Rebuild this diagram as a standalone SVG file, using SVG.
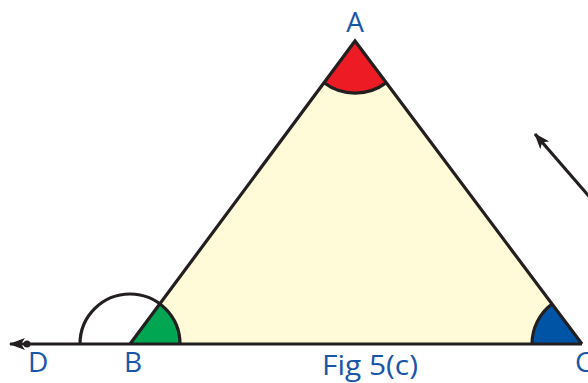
<svg xmlns="http://www.w3.org/2000/svg" width="588" height="383" viewBox="0 0 588 383">
<style>
.lbl{font-family:"Open Sans","DejaVu Sans",sans-serif;font-size:28px;fill:#1a56a8}
.edge{fill:none;stroke:#231f20;stroke-width:3.2}
</style>
<defs>
<marker id="ah" viewBox="0 0 16 12" refX="15" refY="6" markerWidth="16" markerHeight="12" markerUnits="userSpaceOnUse" orient="auto">
<path d="M0,0 L16,6 L0,12 L4,6 Z" fill="#231f20"/>
</marker>
</defs>
<rect width="588" height="383" fill="#ffffff"/>
<g id="triangle">
<path d="M355,41 L130,344 L582,344 Z" fill="#fffbd8"/>
</g>
<g id="angleA">
<path d="M355,41 L324,82.8 A52,52 0 0 0 386.3,82.6 Z" fill="#ed1c24"/>
</g>
<g id="angleB">
<path d="M130,344 L180,344 A50,50 0 0 0 159.8,303.8 Z" fill="#00a651"/>
</g>
<g id="angleC">
<path d="M582,344 L532,344 A50,50 0 0 1 552,304 Z" fill="#0054a6"/>
</g>
<g id="connectors">
<path class="edge" d="M582,344 L355,41 L130,344" stroke-linejoin="miter"/>
<line class="edge" x1="582" y1="344" x2="10" y2="344" marker-end="url(#ah)"/>
<circle cx="27" cy="344" r="3.5" fill="#231f20"/>
<line class="edge" x1="600" y1="209" x2="535" y2="134" stroke-width="2.6" marker-end="url(#ah)"/>
<path class="edge" d="M324,82.8 A52,52 0 0 0 386.3,82.6"/>
<path class="edge" d="M80,344 A50,50 0 0 1 180,344"/>
<path class="edge" d="M532,344 A50,50 0 0 1 552,304"/>
</g>
<g id="labels">
<text class="lbl" x="355" y="32" text-anchor="middle">A</text>
<text class="lbl" x="28" y="372">D</text>
<text class="lbl" x="124" y="372">B</text>
<text class="lbl" x="575" y="372">C</text>
<text class="lbl" x="322" y="375" textLength="96" lengthAdjust="spacingAndGlyphs">Fig 5(c)</text>
</g>
</svg>
